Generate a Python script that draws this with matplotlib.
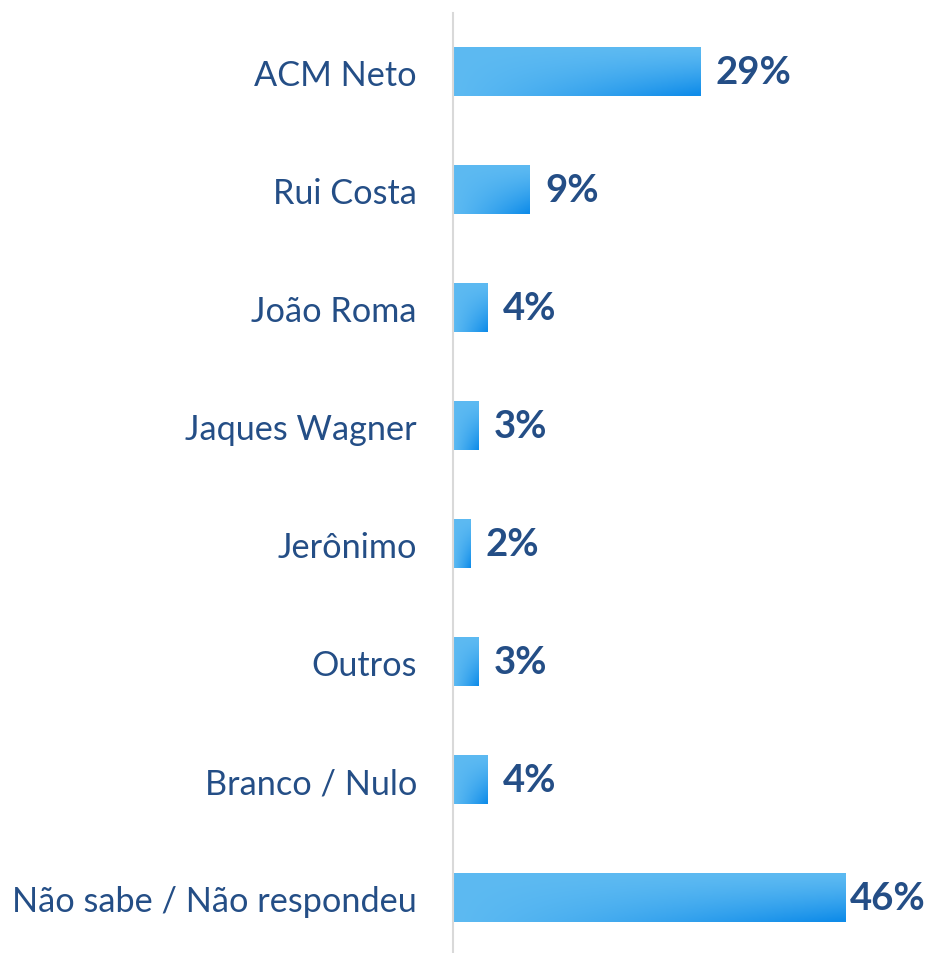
import matplotlib
matplotlib.use("Agg")
import matplotlib.pyplot as plt
import numpy as np
from matplotlib.colors import to_rgb

categories = ["ACM Neto", "Rui Costa", "João Roma", "Jaques Wagner",
              "Jerônimo", "Outros", "Branco / Nulo", "Não sabe / Não respondeu"]
values = [29, 9, 4, 3, 2, 3, 4, 46]
value_labels = ["29%", "9%", "4%", "3%", "2%", "3%", "4%", "46%"]

TEXT = "#244E86"
LIGHT = np.array(to_rgb("#5DBAF2"))
DARK = np.array(to_rgb("#0F8CE9"))

fig = plt.figure(figsize=(9.27, 9.54), dpi=100)
ax = fig.add_axes([0.4887, -0.0045, 0.5113, 0.99])

bar_h = 0.41
ny, nx = 60, 200
yy, xx = np.mgrid[0:1:ny*1j, 0:1:nx*1j]
texts = []
for i, v in enumerate(values):
    t = np.clip((xx ** 1.2) * (yy ** 1.3) * 1.05, 0, 1)
    img = LIGHT[None, None, :] * (1 - t[..., None]) + DARK[None, None, :] * t[..., None]
    ax.imshow(img, extent=(0, v, i + bar_h / 2, i - bar_h / 2), aspect="auto",
              interpolation="bilinear", zorder=2)
    tx = ax.text(v + 1.8, i, value_labels[i], va="center", ha="left",
                 fontsize=27.5, fontweight="bold", color=TEXT, family="Lato")
    texts.append((tx, v))

ax.set_xlim(0, 55.6)
ax.set_ylim(len(categories) - 0.5, -0.5)
ax.set_yticks(range(len(categories)))
ax.set_yticklabels(categories, fontsize=24.7, color=TEXT, family="Lato")
ax.tick_params(axis="y", length=0, pad=26)
ax.set_xticks([])
for s in ["top", "right", "bottom"]:
    ax.spines[s].set_visible(False)
ax.spines["left"].set_color("#D9D9D9")
ax.spines["left"].set_linewidth(1.5)

# keep value labels inside the figure (like the reference's last label)
fig.canvas.draw()
renderer = fig.canvas.get_renderer()
fig_w = fig.bbox.width
for tx, v in texts:
    bb = tx.get_window_extent(renderer)
    if bb.x1 > fig_w - 5:
        tx.set_x(v + 0.6)

fig.savefig("out.png", dpi=100, facecolor="white")
